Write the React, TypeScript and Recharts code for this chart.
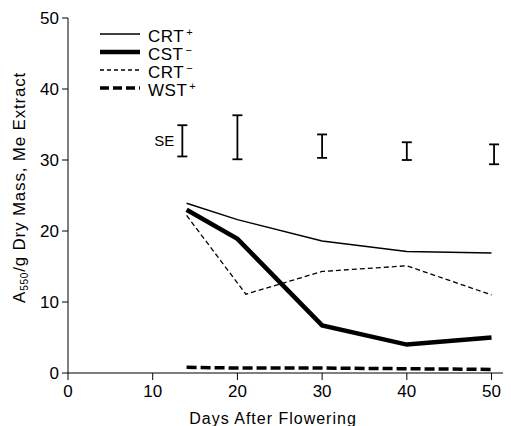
import { ComposedChart, Line, Scatter, ErrorBar, XAxis, YAxis } from 'recharts'

const days = [14, 20, 30, 40, 50]
const crtMinusDays = [14, 21, 30, 40, 50]
const crtPlus = [23.9, 21.6, 18.6, 17.1, 16.9]
const cstMinus = [23.0, 18.9, 6.7, 4.0, 5.0]
const crtMinus = [22.2, 11.1, 14.3, 15.1, 11.0]
const wstPlus = [0.8, 0.7, 0.7, 0.6, 0.5]

const seDays = [13.5, 20, 30, 40, 50.3]
const seLow = [30.5, 30.1, 30.3, 30.0, 29.4]
const seHigh = [34.9, 36.3, 33.6, 32.5, 32.2]

const xTicks = [0, 10, 20, 30, 40, 50]
const yTicks = [0, 10, 20, 30, 40, 50]

const FONT = '"Liberation Sans", Arial, sans-serif'

const toSeries = (xs: number[], ys: number[]) => xs.map((d, i) => ({ day: d, value: ys[i] }))

const seData = seDays.map((d, i) => ({
    day: d,
    mid: (seLow[i] + seHigh[i]) / 2,
    err: (seHigh[i] - seLow[i]) / 2,
    first: i === 0,
}))

const legendItems = [
    { name: 'CRT', sign: '+', width: 1.5, dash: undefined },
    { name: 'CST', sign: '−', width: 4.5, dash: undefined },
    { name: 'CRT', sign: '−', width: 1.3, dash: '4 3' },
    { name: 'WST', sign: '+', width: 3.5, dash: '9 4' },
]

// drawn over the plot, like the figure's key
function LegendBox() {
    return (
        <div style={{ position: 'absolute', left: 90, top: 17, fontFamily: FONT, fontSize: 17, lineHeight: '17px' }}>
            {legendItems.map((it, i) => (
                <div key={i} style={{ display: 'flex', alignItems: 'center', height: 18 }}>
                    <svg width={44} height={10}>
                        <line x1={2} y1={5} x2={42} y2={5} stroke="#000" strokeWidth={it.width} strokeDasharray={it.dash} />
                    </svg>
                    <span style={{ marginLeft: 6, letterSpacing: 0.5 }}>
                        {it.name}
                        <sup style={{ fontSize: 11, marginLeft: 2, verticalAlign: 6 }}>{it.sign}</sup>
                    </span>
                </div>
            ))}
        </div>
    )
}

function YTitle(props: any) {
    const { viewBox } = props
    const x = viewBox.x + 17
    const y = viewBox.y + viewBox.height / 2 - 8
    return (
        <text x={x} y={y} transform={`rotate(-90, ${x}, ${y})`} textAnchor="middle" fontFamily={FONT} fontSize={17} fill="#000" letterSpacing={0.8}>
            A<tspan fontSize={10} dy={3}>550</tspan>
            <tspan dy={-3}>/g Dry Mass, Me Extract</tspan>
        </text>
    )
}

function XTitle(props: any) {
    const { viewBox } = props
    return (
        <text x={265} y={viewBox.y + 51} textAnchor="middle" fontFamily={FONT} fontSize={16} fill="#000" letterSpacing={1}>
            Days After Flowering
        </text>
    )
}

function SEShape(props: any) {
    const { cx, cy, payload } = props
    if (!payload.first) return <g />
    return (
        <text x={cx - 8} y={cy + 5} textAnchor="end" fontFamily={FONT} fontSize={15} fill="#000">
            SE
        </text>
    )
}

export default function App() {
    return (
        <div style={{ position: 'relative', width: 503, height: 418 }}>
            <ComposedChart width={503} height={418} margin={{ top: 10, right: 0, left: 0, bottom: 0 }}>
                <XAxis
                    type="number"
                    dataKey="day"
                    domain={[0, 52.3]}
                    ticks={xTicks}
                    allowDataOverflow
                    stroke="#000"
                    tick={{ fill: '#000', fontFamily: FONT, fontSize: 17 }}
                    tickSize={7}
                    tickMargin={5}
                    height={53}
                    label={<XTitle />}
                />
                <YAxis
                    type="number"
                    domain={[0, 50]}
                    ticks={yTicks}
                    stroke="#000"
                    tick={{ fill: '#000', fontFamily: FONT, fontSize: 17 }}
                    tickSize={6}
                    tickMargin={3}
                    width={60}
                    label={<YTitle />}
                />
                <Line data={toSeries(days, crtPlus)} dataKey="value" stroke="#000" strokeWidth={1.5} dot={false} isAnimationActive={false} />
                <Line data={toSeries(days, cstMinus)} dataKey="value" stroke="#000" strokeWidth={4.5} dot={false} isAnimationActive={false} />
                <Line data={toSeries(crtMinusDays, crtMinus)} dataKey="value" stroke="#000" strokeWidth={1.3} strokeDasharray="5 3" dot={false} isAnimationActive={false} />
                <Line data={toSeries(days, wstPlus)} dataKey="value" stroke="#000" strokeWidth={3.5} strokeDasharray="10 4" dot={false} isAnimationActive={false} />
                <Scatter data={seData} dataKey="mid" shape={<SEShape />} isAnimationActive={false}>
                    <ErrorBar dataKey="err" direction="y" width={5} stroke="#000" strokeWidth={1.8} />
                </Scatter>
            </ComposedChart>
            <LegendBox />
        </div>
    )
}
